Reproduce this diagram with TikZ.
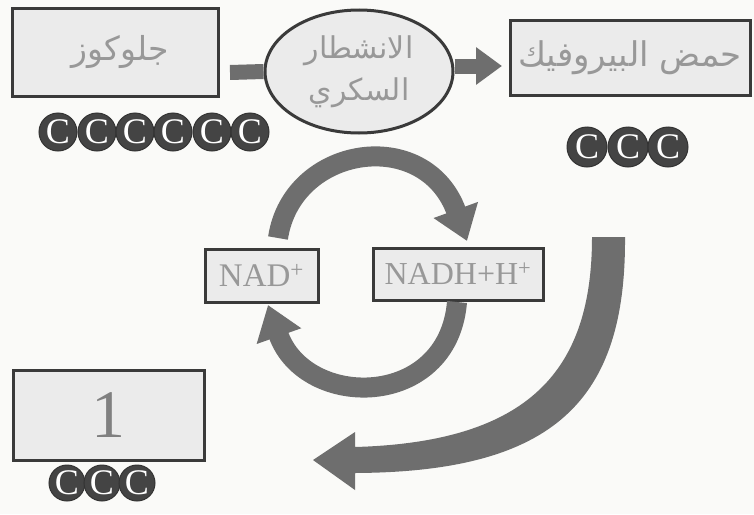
\documentclass[tikz,border=0pt]{standalone}
\usepackage{fontspec}
\setmainfont{Liberation Serif}
\newfontfamily\arabicfont[Script=Arabic]{DejaVu Sans}
\TeXXeTstate=1
\usetikzlibrary{shapes.geometric,arrows.meta}
\definecolor{boxfill}{HTML}{EBEBEB}
\definecolor{boxline}{HTML}{3A3A3A}
\definecolor{txtgray}{HTML}{989898}
\definecolor{arrgray}{HTML}{6E6E6E}
\definecolor{cdark}{HTML}{444444}
\definecolor{bg}{HTML}{FAFAF8}
\tikzset{
  labbox/.style={draw=boxline,fill=boxfill,line width=3pt,inner sep=0pt,text=txtgray},
  carbon/.style={circle,fill=cdark,draw=black!80,line width=1pt,minimum size=#1,inner sep=0pt,text=white,
     font=\fontsize{36}{36}\selectfont},
  band/.style={draw=arrgray,line width=#1},
}
\begin{document}
\begin{tikzpicture}[x=1pt,y=-1pt]
\fill[bg] (0,0) rectangle (754,514);
\useasboundingbox (0,0) rectangle (754,514);

% boxes
\node[labbox,minimum width=206pt,minimum height=88pt,font=\arabicfont\fontsize{33}{36}\selectfont] (glu) at (115,52) {\raisebox{-6pt}{\hspace*{10pt}\beginR جلوكوز\endR}};
\node[labbox,ellipse,minimum width=188pt,minimum height=123pt,align=center,
      font=\arabicfont\fontsize{30}{42}\selectfont] (gly) at (359,71.5) {\beginR الانشطار\endR\\\beginR السكري\endR};
\node[labbox,minimum width=240pt,minimum height=75pt,font=\arabicfont\fontsize{34}{36}\selectfont] (pyr) at (630,57.5) {\raisebox{-3pt}{\beginR حمض البيروفيك\endR}};
\node[labbox,minimum width=113pt,minimum height=53pt,font=\fontsize{33}{34}\selectfont] (nad) at (261.5,275.5) {NAD\textsuperscript{+}};
\node[labbox,minimum width=170pt,minimum height=52pt,font=\fontsize{32}{34}\selectfont] (nadh) at (458,274) {NADH+H\textsuperscript{+}};
\node[labbox,minimum width=191pt,minimum height=90pt,font=\fontsize{68}{68}\selectfont,text=black!50] (one) at (108.5,415) {1};

% carbons
\foreach \x [count=\i] in {58,97,135,173,212,250}
  \node[carbon=38pt] (gc\i) at (\x,132) {C};
\foreach \x [count=\i] in {587,628,668}
  \node[carbon=40pt] (pc\i) at (\x,147) {C};
\foreach \x [count=\i] in {67,102,137}
  \node[carbon=36pt] (oc\i) at (\x,483) {C};

% connectors top row
\coordinate (gs) at (230,72.5);
\draw[band=15pt] (gs) -- (gly.west);
\coordinate (pe) at (502,66);
\draw[band=15pt,-{Triangle[length=26pt,width=36pt]}] (gly.east |- pe) -- (pe);

% cycle
\coordinate (a1) at (278,238);
\coordinate (a2) at (467,241);
\draw[band=20pt,-{Triangle[length=33pt,width=45pt]}] (a1) .. controls (292,145) and (425,125) .. (a2);
\coordinate (b1) at (457,302);
\coordinate (b2) at (268,305);
\draw[band=20pt,-{Triangle[length=33pt,width=45pt]}] (b1) .. controls (448,410) and (305,410) .. (b2);

% big arrow
\fill[arrgray] (625,237) .. controls (626,400) and (555,472) .. (355,473)
  -- (355,490) -- (313,460) -- (355,432) -- (355,447)
  .. controls (530,442) and (592,370) .. (592,237) -- cycle;
\end{tikzpicture}
\end{document}
